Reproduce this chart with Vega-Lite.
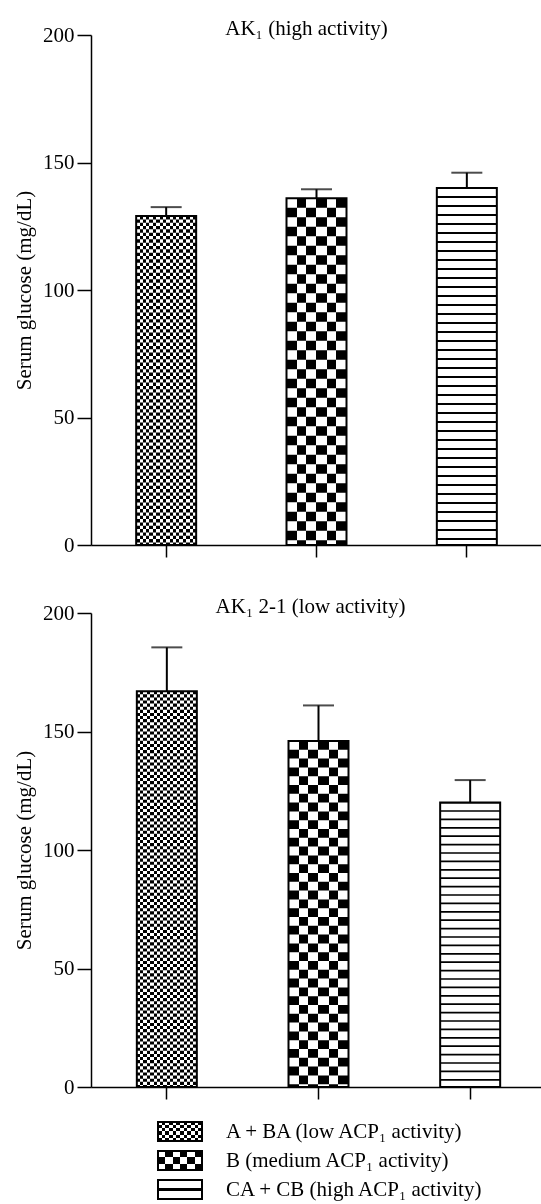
{
  "$schema": "https://vega.github.io/schema/vega-lite/v6.json",
  "background": "white",
  "padding": {"left": 13, "top": 18, "right": 0, "bottom": 0},
  "config": {
    "font": "Liberation Serif",
    "view": {"stroke": null},
    "title": {"fontSize": 21, "fontWeight": "normal", "color": "black", "font": "Liberation Serif", "frame": "group", "baseline": "alphabetic"},
    "axis": {"labelFont": "Liberation Serif", "titleFont": "Liberation Serif", "labelColor": "black", "titleColor": "black", "domainColor": "black", "tickColor": "black", "grid": false, "titleFontWeight": "normal"}
  },
  "datasets": {
    "p1": [
      {"group": "A", "mean": 129, "upper": 132.5},
      {"group": "B", "mean": 136, "upper": 139.5},
      {"group": "C", "mean": 140, "upper": 146}
    ],
    "p2": [
      {"group": "A", "mean": 167, "upper": 185.5},
      {"group": "B", "mean": 146, "upper": 161},
      {"group": "C", "mean": 120, "upper": 129.5}
    ],
    "leg": [
      {"key": "A", "label": "A + BA (low ACP₁ activity)"},
      {"key": "B", "label": "B (medium ACP₁ activity)"},
      {"key": "C", "label": "CA + CB (high ACP₁ activity)"}
    ]
  },
  "vconcat": [
    {
      "spacing": 21,
      "vconcat": [
        {
          "data": {"name": "p1"},
          "width": 451,
          "height": 510,
          "title": {"text": "AK₁ (high activity)", "offset": -15, "dx": -10},
          "encoding": {
            "x": {"field": "group", "type": "nominal", "sort": null, "scale": {"paddingInner": 0, "paddingOuter": 0}, "axis": {"labels": false, "title": null, "tickSize": 12, "domainWidth": 1.5, "tickWidth": 1.5}}
          },
          "layer": [
            {
              "mark": {"type": "bar", "size": 60},
              "encoding": {
                "y": {"field": "mean", "type": "quantitative", "title": "Serum glucose (mg/dL)", "scale": {"domain": [0, 200], "nice": false}, "axis": {"values": [0, 50, 100, 150, 200], "tickSize": 14, "labelFontSize": 21, "titleFontSize": 21, "labelPadding": 3, "titlePadding": 8, "domainWidth": 1.5, "tickWidth": 1.5}},
                "fill": {
                  "condition": [
                    {"test": "datum.group === 'A'", "value": {"gradient": "linear", "x1": 0, "y1": 0, "x2": 1, "y2": 0, "stops": [{"offset":0,"color":"#000"},{"offset":0.0556,"color":"#000"},{"offset":0.0556,"color":"#fff"},{"offset":0.1111,"color":"#fff"},{"offset":0.1111,"color":"#000"},{"offset":0.1667,"color":"#000"},{"offset":0.1667,"color":"#fff"},{"offset":0.2222,"color":"#fff"},{"offset":0.2222,"color":"#000"},{"offset":0.2778,"color":"#000"},{"offset":0.2778,"color":"#fff"},{"offset":0.3333,"color":"#fff"},{"offset":0.3333,"color":"#000"},{"offset":0.3889,"color":"#000"},{"offset":0.3889,"color":"#fff"},{"offset":0.4444,"color":"#fff"},{"offset":0.4444,"color":"#000"},{"offset":0.5,"color":"#000"},{"offset":0.5,"color":"#fff"},{"offset":0.5556,"color":"#fff"},{"offset":0.5556,"color":"#000"},{"offset":0.6111,"color":"#000"},{"offset":0.6111,"color":"#fff"},{"offset":0.6667,"color":"#fff"},{"offset":0.6667,"color":"#000"},{"offset":0.7222,"color":"#000"},{"offset":0.7222,"color":"#fff"},{"offset":0.7778,"color":"#fff"},{"offset":0.7778,"color":"#000"},{"offset":0.8333,"color":"#000"},{"offset":0.8333,"color":"#fff"},{"offset":0.8889,"color":"#fff"},{"offset":0.8889,"color":"#000"},{"offset":0.9444,"color":"#000"},{"offset":0.9444,"color":"#fff"},{"offset":1,"color":"#fff"}]}},
                    {"test": "datum.group === 'B'", "value": {"gradient": "linear", "x1": 0, "y1": 0, "x2": 1, "y2": 0, "stops": [{"offset":0,"color":"#000"},{"offset":0.1667,"color":"#000"},{"offset":0.1667,"color":"#fff"},{"offset":0.3333,"color":"#fff"},{"offset":0.3333,"color":"#000"},{"offset":0.5,"color":"#000"},{"offset":0.5,"color":"#fff"},{"offset":0.6667,"color":"#fff"},{"offset":0.6667,"color":"#000"},{"offset":0.8333,"color":"#000"},{"offset":0.8333,"color":"#fff"},{"offset":1,"color":"#fff"}]}}
                  ],
                  "value": "white"
                }
              }
            },
            {
              "transform": [{"filter": "datum.group === 'A'"}],
              "mark": {"type": "rule", "strokeWidth": 60, "stroke": "white", "blend": "difference", "strokeCap": "butt", "strokeDash": [3.33, 3.33]},
              "encoding": {"y": {"field": "mean", "type": "quantitative", "title": "Serum glucose (mg/dL)"}, "y2": {"datum": 0}}
            },
            {
              "transform": [{"filter": "datum.group === 'B'"}],
              "mark": {"type": "rule", "strokeWidth": 60, "stroke": "white", "blend": "difference", "strokeCap": "butt", "strokeDash": [9.5, 9.5]},
              "encoding": {"y": {"field": "mean", "type": "quantitative", "title": "Serum glucose (mg/dL)"}, "y2": {"datum": 0}}
            },
            {
              "transform": [{"filter": "datum.group === 'C'"}],
              "mark": {"type": "rule", "strokeWidth": 60, "stroke": "black", "strokeCap": "butt", "strokeDash": [1.8, 7.2], "strokeDashOffset": 0.9},
              "encoding": {"y": {"field": "mean", "type": "quantitative", "title": "Serum glucose (mg/dL)"}, "y2": {"datum": 0}}
            },
            {
              "mark": {"type": "bar", "size": 60, "fill": null, "fillOpacity": 0, "stroke": "black", "strokeWidth": 2},
              "encoding": {"y": {"field": "mean", "type": "quantitative", "title": "Serum glucose (mg/dL)"}}
            },
            {
              "mark": {"type": "rule", "stroke": "black", "strokeWidth": 2},
              "encoding": {"y": {"field": "mean", "type": "quantitative", "title": "Serum glucose (mg/dL)"}, "y2": {"field": "upper"}}
            },
            {
              "mark": {"type": "tick", "color": "black", "size": 31, "thickness": 2},
              "encoding": {"y": {"field": "upper", "type": "quantitative", "title": "Serum glucose (mg/dL)"}}
            }
          ]
        },
        {
          "data": {"name": "p2"},
          "width": 455,
          "height": 474,
          "title": {"text": "AK₁ 2-1 (low activity)", "offset": -15, "dx": -8},
          "encoding": {
            "x": {"field": "group", "type": "nominal", "sort": null, "scale": {"paddingInner": 0, "paddingOuter": 0}, "axis": {"labels": false, "title": null, "tickSize": 12, "domainWidth": 1.5, "tickWidth": 1.5}}
          },
          "layer": [
            {
              "mark": {"type": "bar", "size": 60},
              "encoding": {
                "y": {"field": "mean", "type": "quantitative", "title": "Serum glucose (mg/dL)", "scale": {"domain": [0, 200], "nice": false}, "axis": {"values": [0, 50, 100, 150, 200], "tickSize": 14, "labelFontSize": 21, "titleFontSize": 21, "labelPadding": 3, "titlePadding": 8, "domainWidth": 1.5, "tickWidth": 1.5}},
                "fill": {
                  "condition": [
                    {"test": "datum.group === 'A'", "value": {"gradient": "linear", "x1": 0, "y1": 0, "x2": 1, "y2": 0, "stops": [{"offset":0,"color":"#000"},{"offset":0.0556,"color":"#000"},{"offset":0.0556,"color":"#fff"},{"offset":0.1111,"color":"#fff"},{"offset":0.1111,"color":"#000"},{"offset":0.1667,"color":"#000"},{"offset":0.1667,"color":"#fff"},{"offset":0.2222,"color":"#fff"},{"offset":0.2222,"color":"#000"},{"offset":0.2778,"color":"#000"},{"offset":0.2778,"color":"#fff"},{"offset":0.3333,"color":"#fff"},{"offset":0.3333,"color":"#000"},{"offset":0.3889,"color":"#000"},{"offset":0.3889,"color":"#fff"},{"offset":0.4444,"color":"#fff"},{"offset":0.4444,"color":"#000"},{"offset":0.5,"color":"#000"},{"offset":0.5,"color":"#fff"},{"offset":0.5556,"color":"#fff"},{"offset":0.5556,"color":"#000"},{"offset":0.6111,"color":"#000"},{"offset":0.6111,"color":"#fff"},{"offset":0.6667,"color":"#fff"},{"offset":0.6667,"color":"#000"},{"offset":0.7222,"color":"#000"},{"offset":0.7222,"color":"#fff"},{"offset":0.7778,"color":"#fff"},{"offset":0.7778,"color":"#000"},{"offset":0.8333,"color":"#000"},{"offset":0.8333,"color":"#fff"},{"offset":0.8889,"color":"#fff"},{"offset":0.8889,"color":"#000"},{"offset":0.9444,"color":"#000"},{"offset":0.9444,"color":"#fff"},{"offset":1,"color":"#fff"}]}},
                    {"test": "datum.group === 'B'", "value": {"gradient": "linear", "x1": 0, "y1": 0, "x2": 1, "y2": 0, "stops": [{"offset":0,"color":"#000"},{"offset":0.1667,"color":"#000"},{"offset":0.1667,"color":"#fff"},{"offset":0.3333,"color":"#fff"},{"offset":0.3333,"color":"#000"},{"offset":0.5,"color":"#000"},{"offset":0.5,"color":"#fff"},{"offset":0.6667,"color":"#fff"},{"offset":0.6667,"color":"#000"},{"offset":0.8333,"color":"#000"},{"offset":0.8333,"color":"#fff"},{"offset":1,"color":"#fff"}]}}
                  ],
                  "value": "white"
                }
              }
            },
            {
              "transform": [{"filter": "datum.group === 'A'"}],
              "mark": {"type": "rule", "strokeWidth": 60, "stroke": "white", "blend": "difference", "strokeCap": "butt", "strokeDash": [3.1, 3.1]},
              "encoding": {"y": {"field": "mean", "type": "quantitative", "title": "Serum glucose (mg/dL)"}, "y2": {"datum": 0}}
            },
            {
              "transform": [{"filter": "datum.group === 'B'"}],
              "mark": {"type": "rule", "strokeWidth": 60, "stroke": "white", "blend": "difference", "strokeCap": "butt", "strokeDash": [8.8, 8.8]},
              "encoding": {"y": {"field": "mean", "type": "quantitative", "title": "Serum glucose (mg/dL)"}, "y2": {"datum": 0}}
            },
            {
              "transform": [{"filter": "datum.group === 'C'"}],
              "mark": {"type": "rule", "strokeWidth": 60, "stroke": "black", "strokeCap": "butt", "strokeDash": [1.7, 6.7], "strokeDashOffset": 0.85},
              "encoding": {"y": {"field": "mean", "type": "quantitative", "title": "Serum glucose (mg/dL)"}, "y2": {"datum": 0}}
            },
            {
              "mark": {"type": "bar", "size": 60, "fill": null, "fillOpacity": 0, "stroke": "black", "strokeWidth": 2},
              "encoding": {"y": {"field": "mean", "type": "quantitative", "title": "Serum glucose (mg/dL)"}}
            },
            {
              "mark": {"type": "rule", "stroke": "black", "strokeWidth": 2},
              "encoding": {"y": {"field": "mean", "type": "quantitative", "title": "Serum glucose (mg/dL)"}, "y2": {"field": "upper"}}
            },
            {
              "mark": {"type": "tick", "color": "black", "size": 31, "thickness": 2},
              "encoding": {"y": {"field": "upper", "type": "quantitative", "title": "Serum glucose (mg/dL)"}}
            }
          ]
        }
      ]
    },
    {
      "data": {"name": "leg"},
      "width": 451,
      "height": 87,
      "encoding": {
        "y": {"field": "key", "type": "nominal", "sort": null, "axis": null, "scale": {"paddingInner": 0, "paddingOuter": 0}}
      },
      "layer": [
        {
          "mark": {"type": "bar", "size": 19},
          "encoding": {
            "x": {"datum": 67, "type": "quantitative", "scale": {"domain": [0, 451], "nice": false, "zero": false}, "axis": null},
            "x2": {"datum": 111},
            "fill": {
              "condition": [
                {"test": "datum.key === 'A'", "value": {"gradient": "linear", "x1": 0, "y1": 0, "x2": 1, "y2": 0, "stops": [{"offset":0,"color":"#000"},{"offset":0.0833,"color":"#000"},{"offset":0.0833,"color":"#fff"},{"offset":0.1667,"color":"#fff"},{"offset":0.1667,"color":"#000"},{"offset":0.25,"color":"#000"},{"offset":0.25,"color":"#fff"},{"offset":0.3333,"color":"#fff"},{"offset":0.3333,"color":"#000"},{"offset":0.4167,"color":"#000"},{"offset":0.4167,"color":"#fff"},{"offset":0.5,"color":"#fff"},{"offset":0.5,"color":"#000"},{"offset":0.5833,"color":"#000"},{"offset":0.5833,"color":"#fff"},{"offset":0.6667,"color":"#fff"},{"offset":0.6667,"color":"#000"},{"offset":0.75,"color":"#000"},{"offset":0.75,"color":"#fff"},{"offset":0.8333,"color":"#fff"},{"offset":0.8333,"color":"#000"},{"offset":0.9167,"color":"#000"},{"offset":0.9167,"color":"#fff"},{"offset":1,"color":"#fff"}]}},
                {"test": "datum.key === 'B'", "value": {"gradient": "linear", "x1": 0, "y1": 0, "x2": 1, "y2": 0, "stops": [{"offset":0,"color":"#000"},{"offset":0.1667,"color":"#000"},{"offset":0.1667,"color":"#fff"},{"offset":0.3333,"color":"#fff"},{"offset":0.3333,"color":"#000"},{"offset":0.5,"color":"#000"},{"offset":0.5,"color":"#fff"},{"offset":0.6667,"color":"#fff"},{"offset":0.6667,"color":"#000"},{"offset":0.8333,"color":"#000"},{"offset":0.8333,"color":"#fff"},{"offset":1,"color":"#fff"}]}}
              ],
              "value": {"gradient": "linear", "x1": 0, "y1": 0, "x2": 0, "y2": 1, "stops": [{"offset":0,"color":"#fff"},{"offset":0.44,"color":"#fff"},{"offset":0.44,"color":"#000"},{"offset":0.56,"color":"#000"},{"offset":0.56,"color":"#fff"},{"offset":1,"color":"#fff"}]}
            }
          }
        },
        {
          "transform": [{"filter": "datum.key !== 'C'"}],
          "mark": {"type": "bar", "size": 19, "blend": "difference"},
          "encoding": {
            "x": {"datum": 67, "type": "quantitative"},
            "x2": {"datum": 111},
            "fill": {
              "condition": {"test": "datum.key === 'A'", "value": {"gradient": "linear", "x1": 0, "y1": 0, "x2": 0, "y2": 1, "stops": [{"offset":0,"color":"#fff"},{"offset":0.1667,"color":"#fff"},{"offset":0.1667,"color":"#000"},{"offset":0.3333,"color":"#000"},{"offset":0.3333,"color":"#fff"},{"offset":0.5,"color":"#fff"},{"offset":0.5,"color":"#000"},{"offset":0.6667,"color":"#000"},{"offset":0.6667,"color":"#fff"},{"offset":0.8333,"color":"#fff"},{"offset":0.8333,"color":"#000"},{"offset":1,"color":"#000"}]}},
              "value": {"gradient": "linear", "x1": 0, "y1": 0, "x2": 0, "y2": 1, "stops": [{"offset":0,"color":"#fff"},{"offset":0.3333,"color":"#fff"},{"offset":0.3333,"color":"#000"},{"offset":0.6667,"color":"#000"},{"offset":0.6667,"color":"#fff"},{"offset":1,"color":"#fff"}]}
            }
          }
        },
        {
          "mark": {"type": "bar", "size": 19, "fill": null, "fillOpacity": 0, "stroke": "black", "strokeWidth": 2},
          "encoding": {"x": {"datum": 67, "type": "quantitative"}, "x2": {"datum": 111}}
        },
        {
          "mark": {"type": "text", "align": "left", "baseline": "middle", "fontSize": 21, "color": "black", "font": "Liberation Serif"},
          "encoding": {"x": {"datum": 135, "type": "quantitative"}, "text": {"field": "label"}}
        }
      ]
    }
  ],
  "spacing": -10
}
